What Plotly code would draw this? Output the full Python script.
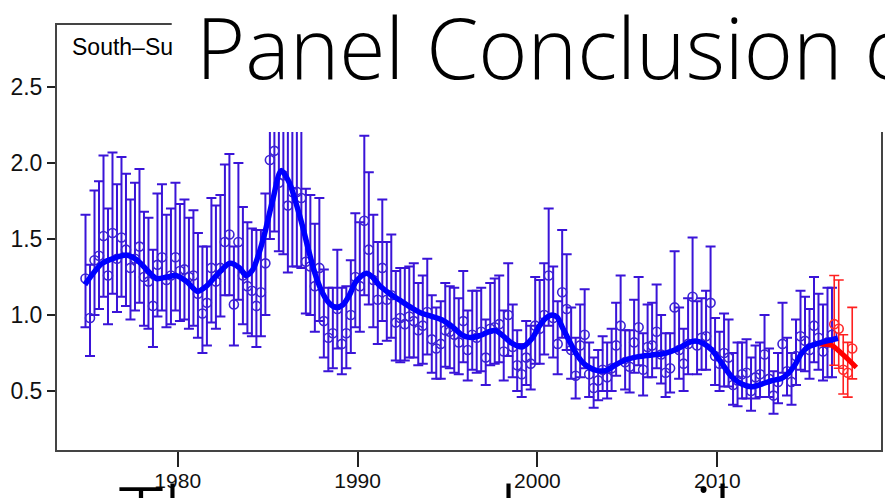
import plotly.graph_objects as go

# ---------------- data ----------------
start_year = 1974.875          # first quarterly observation
step = 0.25                    # quarterly

mid = [1.24,0.98,1.36,1.39,1.52,1.26,1.54,1.37,1.51,1.43,1.31,1.37,1.45,1.25,1.22,1.06,1.33,1.38,1.23,1.26,
       1.38,1.29,1.30,1.25,1.26,1.14,1.01,1.08,1.31,1.22,1.31,1.48,1.53,1.07,1.48,1.26,1.19,1.16,1.06,1.15,
       1.34,2.02,2.08,1.87,1.92,1.72,1.81,1.81,1.77,1.35,1.32,1.19,1.31,0.96,0.85,0.88,1.04,0.81,0.88,1.00,
       1.25,1.19,1.62,1.43,1.23,1.10,1.31,1.10,1.13,0.95,0.98,0.94,0.99,0.96,0.90,0.93,1.02,0.84,0.78,0.81,
       0.90,0.89,0.87,0.82,0.96,0.77,0.87,0.85,0.89,0.72,0.91,0.92,0.94,0.76,1.00,0.79,0.67,0.61,0.72,0.68,
       0.93,0.91,1.00,1.26,0.98,0.81,1.15,1.04,0.77,0.60,0.80,0.87,0.61,0.52,0.57,0.64,0.59,0.65,0.80,0.93,
       0.69,0.66,0.82,0.92,0.64,0.79,0.80,0.89,0.74,0.62,0.65,1.05,0.77,0.68,0.81,1.12,0.80,0.85,0.86,1.08,
       0.73,0.68,0.75,0.72,0.54,0.57,0.61,0.62,0.50,0.59,0.61,0.74,0.58,0.47,0.56,0.81,0.63,0.56,0.73,0.86,
       0.83,0.77,0.93,0.85,0.76,0.82,0.87]
upper = [1.66,1.33,1.82,1.88,2.05,1.70,2.07,1.86,2.04,1.93,1.76,1.87,1.96,1.68,1.64,1.43,1.80,1.86,1.66,1.70,
         1.87,1.73,1.76,1.64,1.69,1.54,1.45,1.45,1.77,1.72,1.79,1.99,2.06,1.45,2.00,1.71,1.61,1.57,1.56,1.56,
         1.80,2.55,2.70,2.45,2.50,2.40,2.45,2.45,2.40,1.83,1.79,1.60,1.77,1.30,1.18,1.18,1.43,1.18,1.19,1.36,
         1.67,1.61,2.18,1.94,1.66,1.48,1.76,1.48,1.53,1.29,1.31,1.31,1.32,1.34,1.21,1.26,1.37,1.13,1.05,1.09,
         1.21,1.19,1.18,1.11,1.29,1.03,1.16,1.16,1.18,0.97,1.21,1.24,1.26,1.03,1.34,1.07,0.90,0.81,0.96,0.93,
         1.25,1.23,1.34,1.70,1.32,1.09,1.56,1.40,1.05,0.85,1.07,1.17,0.82,0.72,0.77,0.86,0.82,0.91,1.08,1.26,
         0.90,0.90,1.10,1.25,0.88,1.07,1.08,1.20,1.00,0.88,0.88,1.42,1.05,0.91,1.11,1.51,1.09,1.11,1.16,1.45,
         0.98,0.89,1.01,0.97,0.75,0.82,0.82,0.84,0.72,0.80,0.82,1.00,0.78,0.63,0.75,1.08,0.85,0.75,0.97,1.16,
         1.12,1.04,1.25,1.14,1.07,1.18,1.18]
lower = [0.92,0.73,1.00,1.04,1.12,0.94,1.14,1.02,1.12,1.06,0.97,1.03,1.08,0.93,0.91,0.79,0.99,1.03,0.92,0.94,
         1.03,0.96,0.97,0.91,0.93,0.85,0.75,0.80,0.95,0.91,0.99,1.13,1.13,0.80,1.10,0.94,0.88,0.86,0.79,0.86,
         1.00,1.50,1.55,1.42,1.40,1.28,1.32,1.32,1.31,1.01,1.00,0.89,0.96,0.72,0.63,0.65,0.78,0.61,0.65,0.75,
         0.92,0.89,1.13,1.07,0.92,0.81,0.96,0.83,0.85,0.70,0.69,0.70,0.72,0.72,0.67,0.68,0.74,0.62,0.58,0.58,
         0.66,0.65,0.62,0.61,0.69,0.57,0.64,0.62,0.63,0.54,0.67,0.68,0.69,0.57,0.73,0.59,0.50,0.46,0.54,0.51,
         0.68,0.68,0.74,0.93,0.72,0.61,0.85,0.77,0.58,0.45,0.59,0.65,0.46,0.39,0.44,0.50,0.45,0.50,0.60,0.69,
         0.51,0.49,0.62,0.67,0.47,0.59,0.59,0.65,0.55,0.46,0.49,0.76,0.58,0.50,0.61,0.82,0.61,0.64,0.64,0.78,
         0.54,0.50,0.53,0.53,0.41,0.40,0.45,0.45,0.37,0.45,0.46,0.55,0.46,0.35,0.42,0.62,0.47,0.41,0.54,0.64,
         0.63,0.58,0.69,0.64,0.57,0.59,0.59]

# last observations (red)
red_years = [2016.5, 2016.75, 2017.0, 2017.25, 2017.5]
red_mid   = [0.94, 0.91, 0.64, 0.62, 0.78]
red_upper = [1.26, 1.23, 0.87, 0.82, 1.05]
red_lower = [0.67, 0.65, 0.48, 0.46, 0.58]

# smoothed trend (thick blue line)
trend_years = [1974.84,1975.8,1976.6,1977.15,1977.7,1978.26,1978.82,1979.4,1979.9,1980.5,1981.1,1981.6,
               1982.15,1982.9,1983.44,1983.8,1984.18,1984.73,1985.29,1985.75,1986.21,1986.58,1986.95,
               1987.32,1987.69,1988.06,1988.43,1988.8,1989.17,1989.54,1989.91,1990.47,1990.83,1991.2,
               1991.76,1992.31,1993.05,1993.6,1994.16,1994.71,1995.27,1995.82,1996.2,1996.75,1997.3,
               1997.68,1998.04,1998.6,1999.15,1999.71,2000.08,2000.45,2000.82,2001.1,2001.37,2001.74,
               2002.2,2002.67,2003.22,2003.78,2004.33,2004.89,2005.62,2006.36,2007.1,2007.84,2008.4,
               2008.77,2009.23,2009.7,2010.25,2010.8,2011.36,2011.91,2012.47,2013.02,2013.57,2013.94,
               2014.31,2014.68,2015.05,2015.6,2016.16,2016.71]
trend_vals = [1.20,1.34,1.38,1.395,1.365,1.30,1.24,1.25,1.26,1.22,1.155,1.19,
              1.26,1.34,1.31,1.26,1.30,1.49,1.76,1.95,1.87,1.735,1.58,
              1.406,1.252,1.143,1.077,1.05,1.066,1.13,1.22,1.274,1.25,1.197,
              1.143,1.10,1.044,1.01,0.99,0.967,0.923,0.868,0.853,0.862,0.89,
              0.897,0.868,0.813,0.79,0.847,0.923,0.978,1.0,0.985,0.923,0.836,
              0.737,0.671,0.638,0.634,0.671,0.704,0.726,0.737,0.748,0.781,0.818,
              0.829,0.813,0.77,0.682,0.594,0.546,0.528,0.546,0.568,0.583,0.616,
              0.671,0.748,0.791,0.813,0.831,0.847]
red_trend_years = [2015.7, 2016.35, 2016.7, 2017.27, 2017.73]
red_trend_vals  = [0.81, 0.80, 0.77, 0.708, 0.655]

x_ticks = [1980, 1990, 2000, 2010]
y_ticks = [0.5, 1.0, 1.5, 2.0, 2.5]
y_ticktext = ["0.5", "1.0", "1.5", "2.0", "2.5"]

# ---------------- figure ----------------
W, H = 885, 498
ML, MR, MT, MB = 57, 2, 25, 48
PW, PH = W - ML - MR, H - MT - MB

def px_x(p):
    return (p - ML) / PW

def px_y(p):
    return (H - MB - p) / PH

years = [start_year + step * k for k in range(len(mid))]

blue_bar = "#3a14d8"
fig = go.Figure()

fig.add_trace(go.Scatter(
    x=years, y=mid, mode="markers",
    marker=dict(symbol="circle-open", size=9, color="#3b22d4", line=dict(width=1.6)),
    error_y=dict(type="data", symmetric=False,
                 array=[u - m for u, m in zip(upper, mid)],
                 arrayminus=[m - l for m, l in zip(mid, lower)],
                 color=blue_bar, thickness=2, width=5),
    showlegend=False, hoverinfo="skip"))

fig.add_trace(go.Scatter(
    x=red_years, y=red_mid, mode="markers",
    marker=dict(symbol="circle-open", size=9, color="#ff2a2a", line=dict(width=1.6)),
    error_y=dict(type="data", symmetric=False,
                 array=[u - m for u, m in zip(red_upper, red_mid)],
                 arrayminus=[m - l for m, l in zip(red_mid, red_lower)],
                 color="#ff2020", thickness=1.6, width=5),
    showlegend=False, hoverinfo="skip"))

fig.add_trace(go.Scatter(
    x=red_trend_years, y=red_trend_vals, mode="lines",
    line=dict(color="#ff0000", width=5, shape="spline"),
    showlegend=False, hoverinfo="skip"))

fig.add_trace(go.Scatter(
    x=trend_years, y=trend_vals, mode="lines",
    line=dict(color="#0000ff", width=5.5, shape="spline", smoothing=0.8),
    showlegend=False, hoverinfo="skip"))

xfont = dict(family="Liberation Sans, Arial, sans-serif", size=21, color="#111111")
yfont = dict(family="Liberation Sans, Arial, sans-serif", size=23, color="#111111")

fig.update_layout(
    width=W, height=H, autosize=False,
    margin=dict(l=ML, r=MR, t=MT, b=MB, pad=0),
    paper_bgcolor="white", plot_bgcolor="white",
    xaxis=dict(range=[1973.29, 2019.1], tickvals=x_ticks, ticks="outside", ticklen=15,
               tickwidth=1.5, tickcolor="#222222", showline=True, linecolor="#444444",
               linewidth=2, mirror=True, showgrid=False, zeroline=False, tickfont=xfont,
               ticklabelstandoff=-4),
    yaxis=dict(range=[0.112, 2.908], tickvals=y_ticks, ticktext=y_ticktext, ticks="outside",
               ticklen=8, tickwidth=1.5, tickcolor="#222222", showline=True,
               linecolor="#444444", linewidth=2, mirror=True, showgrid=False, zeroline=False,
               tickfont=yfont),
    shapes=[dict(type="rect", xref="paper", yref="paper", layer="above",
                 x0=px_x(172), x1=px_x(890), y0=px_y(132), y1=px_y(-5),
                 fillcolor="white", line=dict(width=0))],
)

title_font = dict(family="Open Sans, sans-serif", size=84, color="black", weight=300)
annotations = [
    dict(text="South\u2013Su", x=px_x(70), y=px_y(47), xanchor="left", yanchor="middle",
         font=dict(family="Liberation Sans, Arial, sans-serif", size=23, color="black")),
    dict(text="Panel Conclusion on", x=px_x(194), y=px_y(46), xanchor="left", yanchor="middle",
         font=title_font),
    dict(text="Th", x=px_x(117), y=px_y(515), xanchor="left", yanchor="middle", font=title_font),
    dict(text="l", x=px_x(498), y=px_y(515), xanchor="left", yanchor="middle", font=title_font),
    dict(text="il", x=px_x(694), y=px_y(515), xanchor="left", yanchor="middle", font=title_font),
]
for a in annotations:
    a.update(xref="paper", yref="paper", showarrow=False)
fig.update_layout(annotations=annotations)

fig.write_html("out.html")
